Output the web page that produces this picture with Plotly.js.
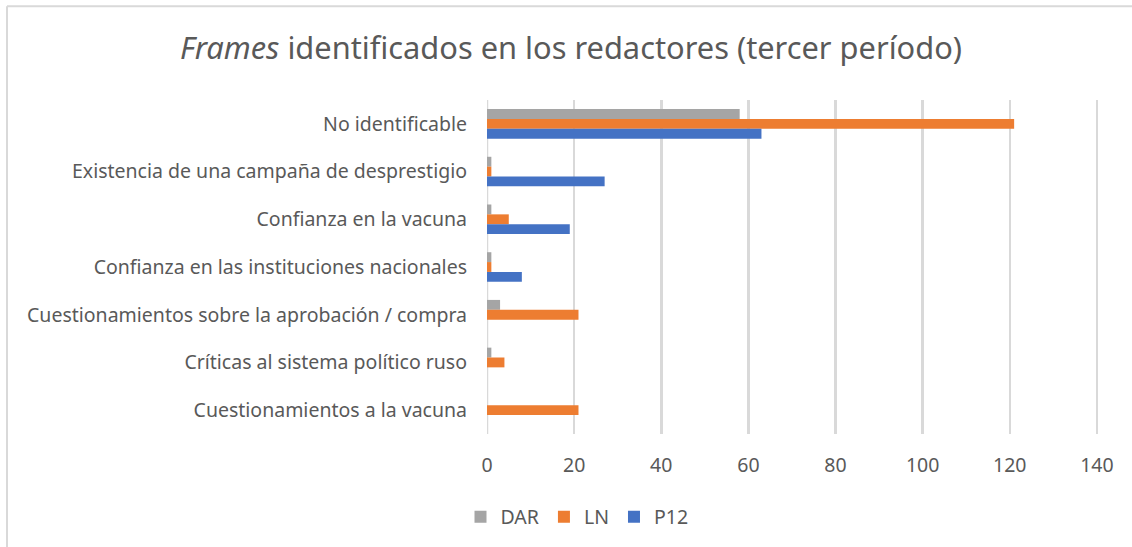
<!DOCTYPE html>
<html><head><meta charset="utf-8">
<script src="https://cdn.plot.ly/plotly-3.0.1.min.js"></script>
<style>html,body{margin:0;padding:0;background:#fff}#chart{width:1132px;height:547px}</style>
</head><body><div id="chart"></div>
<script>
const categories = [
  "No identificable",
  "Existencia de una campaña de desprestigio",
  "Confianza en la vacuna",
  "Confianza en las instituciones nacionales",
  "Cuestionamientos sobre la aprobación / compra",
  "Críticas al sistema político ruso",
  "Cuestionamientos a la vacuna"
];
const dar = [58, 1, 1, 1, 3, 1, 0];
const ln  = [121, 1, 5, 1, 21, 4, 21];
const p12 = [63, 27, 19, 8, 0, 0, 0];
const xTicks = [0, 20, 40, 60, 80, 100, 120, 140];

const fontFam = "'Noto Sans', 'Open Sans', sans-serif";
const txt = '#595959';
function tr(name, vals, color) {
  return {type: 'bar', orientation: 'h', name: name, y: categories, x: vals,
    marker: {color: color}, hoverinfo: 'x+y'};
}
const data = [
  tr('DAR', dar, '#a5a5a5'),
  tr('LN', ln, '#ed7d31'),
  tr('P12', p12, '#4472c4')
];
const L = 487, T = 100, W = 611, H = 335;
function px(x) { return (x - L) / W; }
function py(y) { return (T + H - y) / H; }
const layout = {
  width: 1132, height: 547,
  margin: {l: L, r: 1132 - L - W, t: T, b: 547 - T - H},
  paper_bgcolor: '#fff', plot_bgcolor: '#fff',
  font: {family: fontFam, color: txt, size: 19.5},
  title: {text: '<i>Frames</i> identificados en los redactores (tercer período)',
    font: {family: fontFam, size: 30.8, color: txt}, xref: 'container', x: 571/1132, xanchor: 'center',
    yref: 'container', y: 1 - 48/547, yanchor: 'middle'},
  barmode: 'group', bargap: 0.38, bargroupgap: 0,
  xaxis: {range: [0, 140.25], tickvals: xTicks, ticktext: xTicks.map(String),
    showgrid: true, gridcolor: '#d9d9d9', gridwidth: 2.5, zeroline: false,
    showline: false, ticks: '', ticklabelstandoff: 17,
    tickfont: {size: 19.5, color: txt}, fixedrange: true},
  yaxis: {autorange: 'reversed', showgrid: false, zeroline: false, showline: false,
    ticks: '', ticklabelstandoff: 19,
    tickfont: {size: 19.5, color: txt}, fixedrange: true},
  shapes: [
    {type: 'line', xref: 'x', yref: 'paper', x0: 0, x1: 0, y0: 0, y1: 1,
     line: {color: '#d9d9d9', width: 2.5}, layer: 'below'},
    {type: 'line', xref: 'paper', yref: 'paper', x0: px(7), x1: px(1140), y0: py(6), y1: py(6),
     line: {color: '#d9d9d9', width: 2}},
    {type: 'line', xref: 'paper', yref: 'paper', x0: px(7), x1: px(7), y0: py(6), y1: py(560),
     line: {color: '#d9d9d9', width: 2}}
  ],
  legend: {orientation: 'h', x: px(577), xanchor: 'center', y: py(517), yanchor: 'middle',
    font: {size: 19.5, color: txt}, traceorder: 'normal', itemwidth: 30},
  showlegend: true
};
Plotly.newPlot('chart', data, layout, {displayModeBar: false, staticPlot: true});
</script></body></html>
